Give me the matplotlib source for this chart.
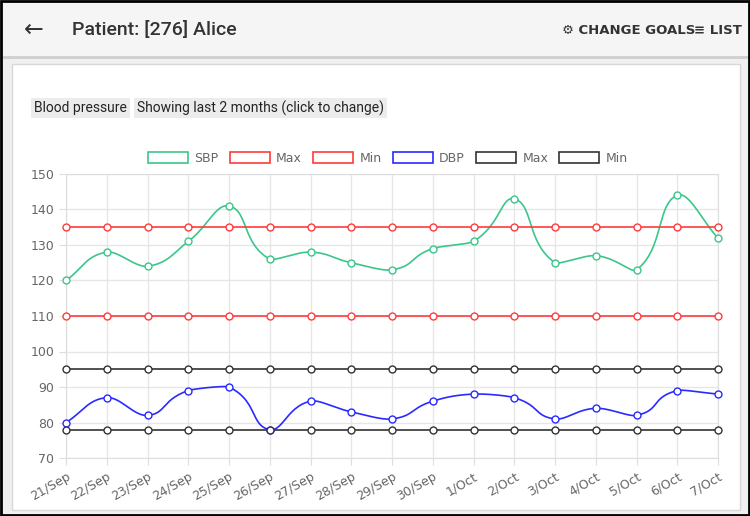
import numpy as np
import matplotlib
matplotlib.use("Agg")
import matplotlib.pyplot as plt
from matplotlib.patches import Rectangle
from matplotlib.lines import Line2D

dates = ["21/Sep","22/Sep","23/Sep","24/Sep","25/Sep","26/Sep","27/Sep","28/Sep","29/Sep","30/Sep",
         "1/Oct","2/Oct","3/Oct","4/Oct","5/Oct","6/Oct","7/Oct"]
sbp = [120,128,124,131,141,126,128,125,123,129,131,143,125,127,123,144,132]
dbp = [80,87,82,89,90,78,86,83,81,86,88,87,81,84,82,89,88]
sbp_max = [135]*17
sbp_min = [110]*17
dbp_max = [95]*17
dbp_min = [78]*17

def spline(xs, ys, t=0.4, n=30):
    xs = np.asarray(xs, float); ys = np.asarray(ys, float)
    N = len(xs); cps = []
    for i in range(N):
        p = (xs[max(i-1,0)], ys[max(i-1,0)]); c = (xs[i], ys[i]); nx = (xs[min(i+1,N-1)], ys[min(i+1,N-1)])
        d01 = np.hypot(c[0]-p[0], c[1]-p[1]); d12 = np.hypot(nx[0]-c[0], nx[1]-c[1])
        s01 = d01/(d01+d12) if d01+d12 else 0; s12 = d12/(d01+d12) if d01+d12 else 0
        fa, fb = t*s01, t*s12
        prev = (c[0]-fa*(nx[0]-p[0]), c[1]-fa*(nx[1]-p[1]))
        nxt = (c[0]+fb*(nx[0]-p[0]), c[1]+fb*(nx[1]-p[1]))
        cps.append((prev, nxt))
    X, Y = [], []
    u = np.linspace(0, 1, n)
    for i in range(N-1):
        P0 = np.array([xs[i], ys[i]]); P1 = np.array(cps[i][1]); P2 = np.array(cps[i+1][0]); P3 = np.array([xs[i+1], ys[i+1]])
        B = ((1-u)**3)[:,None]*P0 + (3*(1-u)**2*u)[:,None]*P1 + (3*(1-u)*u**2)[:,None]*P2 + (u**3)[:,None]*P3
        X.extend(B[:,0]); Y.extend(B[:,1])
    return X, Y

fig = plt.figure(figsize=(7.5, 5.16), dpi=100)
fig.patch.set_facecolor("white")
W, H = 750, 516
def fx(x): return x/W
def fy(y): return 1 - y/H
def bg(a): a.set_zorder(-5); fig.add_artist(a)
bg(Rectangle((0,0),1,1,transform=fig.transFigure,facecolor="#f0f0f0",edgecolor="none"))
bg(Rectangle((fx(12),fy(510)),fx(728),(510-64)/H,transform=fig.transFigure,facecolor="white",edgecolor="#d8d8d8",lw=1))
bg(Rectangle((0,fy(56)),1,56/H,transform=fig.transFigure,facecolor="#f5f5f5",edgecolor="none"))
bg(Line2D([0,1],[fy(57),fy(57)],transform=fig.transFigure,color="#cfcfcf",lw=2))
fr = Rectangle((0.001,0.001),0.997,0.997,transform=fig.transFigure,facecolor="none",edgecolor="black",lw=2)
fr.set_zorder(20); fig.add_artist(fr)
fig.text(fx(24), fy(30), "←", fontsize=17, va="center", color="#333")
fig.text(fx(72), fy(30), "Patient: [276] Alice", fontsize=14, va="center", color="#333", family="Roboto", weight="medium")
fig.text(fx(562), fy(30), "⚙ CHANGE GOALS", fontsize=9.5, va="center", color="#333", family="DejaVu Sans Condensed", weight="bold")
fig.text(fx(694), fy(30), "≡ LIST", fontsize=9.5, va="center", color="#333", family="DejaVu Sans Condensed", weight="bold")
fig.text(fx(34), fy(108), "Blood pressure", fontsize=10, va="center", color="#222", family="Roboto",
         bbox=dict(facecolor="#ececec", edgecolor="none", pad=2))
fig.text(fx(137), fy(108), "Showing last 2 months (click to change)", fontsize=10, va="center", color="#222", family="Roboto",
         bbox=dict(facecolor="#ececec", edgecolor="none", pad=2))

ax = fig.add_axes([fx(66), fy(458), (718-66)/W, (458-174)/H])
ax.set_zorder(10)
ax.patch.set_alpha(0)
x = np.arange(len(dates))
series = [(sbp, "#3cc68a", "SBP"), (sbp_max, "#ff3b3b", "Max"), (sbp_min, "#ff3b3b", "Min"),
          (dbp, "#2a2aff", "DBP"), (dbp_max, "#333333", "Max"), (dbp_min, "#333333", "Min")]
for vals, col, lab in series:
    sx, sy = spline(x, vals)
    ax.plot(sx, sy, color=col, lw=1.2, zorder=3, clip_on=False)
    ax.plot(x, vals, "o", ms=5, mfc="white", mec=col, mew=1, zorder=4, clip_on=False)
ax.set_xlim(0, 16); ax.set_ylim(70, 150)
ax.set_yticks(range(70, 151, 10))
ax.set_xticks(x); ax.set_xticklabels(dates, rotation=30, ha="right", rotation_mode="anchor")
ax.grid(True, color="#e6e6e6", lw=1)
for s in ax.spines.values(): s.set_color("#dddddd")
ax.tick_params(colors="#666", labelsize=9, length=5, color="#dddddd")
for lbl in ax.get_xticklabels()+ax.get_yticklabels(): lbl.set_color("#666")

handles = [Rectangle((0,0),1,1,facecolor="white",edgecolor=c,lw=1.2) for _,c,_ in series]
fig.legend(handles, [l for *_,l in series], loc="center", bbox_to_anchor=(fx(388), fy(158)), ncol=6,
           frameon=False, fontsize=9, handlelength=3.2, handleheight=1.0, columnspacing=0.9, handletextpad=0.5,
           labelcolor="#666")
fig.savefig("out.png", dpi=100)
